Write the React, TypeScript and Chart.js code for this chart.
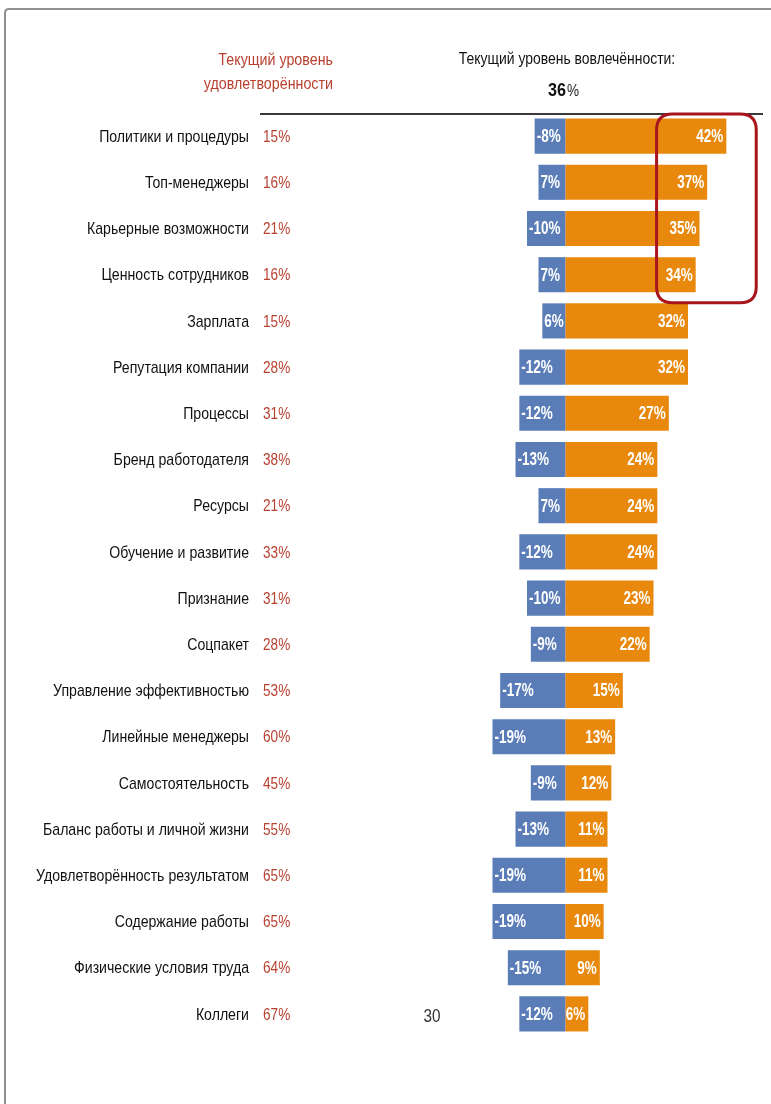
import React, { useEffect, useRef } from 'react';
import { Chart, registerables } from 'chart.js';

Chart.register(...registerables);

const categories = [
  'Политики и процедуры',
  'Топ-менеджеры',
  'Карьерные возможности',
  'Ценность сотрудников',
  'Зарплата',
  'Репутация компании',
  'Процессы',
  'Бренд работодателя',
  'Ресурсы',
  'Обучение и развитие',
  'Признание',
  'Соцпакет',
  'Управление эффективностью',
  'Линейные менеджеры',
  'Самостоятельность',
  'Баланс работы и личной жизни',
  'Удовлетворённость результатом',
  'Содержание работы',
  'Физические условия труда',
  'Коллеги',
];

const satisfaction = [15, 16, 21, 16, 15, 28, 31, 38, 21, 33, 31, 28, 53, 60, 45, 55, 65, 65, 64, 67];

const negativeValues = [-8, -7, -10, -7, -6, -12, -12, -13, -7, -12, -10, -9, -17, -19, -9, -13, -19, -19, -15, -12];
const negativeText = ['-8%', '7%', '-10%', '7%', '6%', '-12%', '-12%', '-13%', '7%', '-12%', '-10%', '-9%', '-17%', '-19%', '-9%', '-13%', '-19%', '-19%', '-15%', '-12%'];

const positiveValues = [42, 37, 35, 34, 32, 32, 27, 24, 24, 24, 23, 22, 15, 13, 12, 11, 11, 10, 9, 6];

const engagementTotal = 36;
const satisfactionTitle = ['Текущий уровень', 'удовлетворённости'];
const engagementTitle = 'Текущий уровень вовлечённости:';
const strayText = '30';

const BLUE = '#5a7db8';
const ORANGE = '#e8890e';
const RED_TEXT = '#b8402f';
const FRAME_RED = '#a8151c';

function narrowText(
  ctx: CanvasRenderingContext2D,
  text: string,
  x: number,
  y: number,
  font: string,
  color: string,
  align: CanvasTextAlign,
  sx: number
) {
  ctx.save();
  ctx.translate(x, y);
  ctx.scale(sx, 1);
  ctx.font = font;
  ctx.fillStyle = color;
  ctx.textAlign = align;
  ctx.textBaseline = 'middle';
  ctx.fillText(text, 0, 0);
  ctx.restore();
}

function roundRect(ctx: CanvasRenderingContext2D, x: number, y: number, w: number, h: number, r: number) {
  ctx.beginPath();
  ctx.moveTo(x + r, y);
  ctx.lineTo(x + w - r, y);
  ctx.quadraticCurveTo(x + w, y, x + w, y + r);
  ctx.lineTo(x + w, y + h - r);
  ctx.quadraticCurveTo(x + w, y + h, x + w - r, y + h);
  ctx.lineTo(x + r, y + h);
  ctx.quadraticCurveTo(x, y + h, x, y + h - r);
  ctx.lineTo(x, y + r);
  ctx.quadraticCurveTo(x, y, x + r, y);
  ctx.closePath();
}

const decorPlugin = {
  id: 'decor',
  beforeDraw(chart: any) {
    const ctx: CanvasRenderingContext2D = chart.ctx;
    ctx.save();
    ctx.fillStyle = '#ffffff';
    ctx.fillRect(0, 0, chart.width, chart.height);
    // frame
    ctx.strokeStyle = '#8e9094';
    ctx.lineWidth = 2;
    ctx.beginPath();
    ctx.moveTo(5, chart.height + 2);
    ctx.lineTo(5, 13);
    ctx.quadraticCurveTo(5, 9, 9, 9);
    ctx.lineTo(chart.width + 2, 9);
    ctx.stroke();
    // headers
    const sans = '"Liberation Sans", Arial, sans-serif';
    narrowText(ctx, satisfactionTitle[0], 333, 60, `17px ${sans}`, RED_TEXT, 'right', 0.84);
    narrowText(ctx, satisfactionTitle[1], 333, 84, `17px ${sans}`, RED_TEXT, 'right', 0.84);
    narrowText(ctx, engagementTitle, 567, 59, `17px ${sans}`, '#111111', 'center', 0.82);
    // 36%
    ctx.font = `bold 19px ${sans}`;
    const numTxt = String(engagementTotal);
    const wNum = ctx.measureText(numTxt).width * 0.85;
    ctx.font = `17px ${sans}`;
    const wPct = ctx.measureText('%').width * 0.8;
    const startX = 563 - (wNum + wPct) / 2;
    narrowText(ctx, numTxt, startX, 91, `bold 19px ${sans}`, '#111111', 'left', 0.85);
    narrowText(ctx, '%', startX + wNum + 1, 91, `17px ${sans}`, '#222222', 'left', 0.8);
    // header rule
    ctx.strokeStyle = '#3a3a3a';
    ctx.lineWidth = 2;
    ctx.beginPath();
    ctx.moveTo(260, 114);
    ctx.lineTo(763, 114);
    ctx.stroke();
    ctx.restore();
  },
  afterDatasetsDraw(chart: any) {
    const ctx: CanvasRenderingContext2D = chart.ctx;
    const xs = chart.scales.x;
    const ys = chart.scales.y;
    const sans = '"Liberation Sans", Arial, sans-serif';
    ctx.save();
    categories.forEach((cat, i) => {
      const y = ys.getPixelForValue(i);
      narrowText(ctx, cat, 249, y + 1, `17px ${sans}`, '#111111', 'right', 0.83);
      narrowText(ctx, `${satisfaction[i]}%`, 263, y + 1, `17px ${sans}`, RED_TEXT, 'left', 0.8);
      const xn = xs.getPixelForValue(negativeValues[i]);
      narrowText(ctx, negativeText[i], xn + 2, y + 1, `bold 18px ${sans}`, '#ffffff', 'left', 0.75);
      const xp = xs.getPixelForValue(positiveValues[i]);
      narrowText(ctx, `${positiveValues[i]}%`, xp - 3, y + 1, `bold 18px ${sans}`, '#ffffff', 'right', 0.75);
    });
    // highlight box around the top four engagement drivers
    const bx1 = xs.getPixelForValue(23.8);
    const bx2 = xs.getPixelForValue(49.8);
    const by1 = ys.getPixelForValue(0) - 22;
    const by2 = ys.getPixelForValue(3) + 28;
    ctx.strokeStyle = FRAME_RED;
    ctx.lineWidth = 3;
    roundRect(ctx, bx1, by1, bx2 - bx1, by2 - by1, 16);
    ctx.stroke();
    // stray label
    narrowText(ctx, strayText, 432, ys.getPixelForValue(categories.length - 1) + 3, `18px ${sans}`, '#333333', 'center', 0.85);
    ctx.restore();
  },
};

export default function App() {
  const ref = useRef<HTMLCanvasElement | null>(null);
  useEffect(() => {
    if (!ref.current) return;
    const chart = new Chart(ref.current, {
      type: 'bar',
      data: {
        labels: categories,
        datasets: [
          {
            label: 'neg',
            data: negativeValues,
            backgroundColor: BLUE,
            borderWidth: 0,
            barPercentage: 0.76,
            categoryPercentage: 1,
          },
          {
            label: 'pos',
            data: positiveValues,
            backgroundColor: ORANGE,
            borderWidth: 0,
            barPercentage: 0.76,
            categoryPercentage: 1,
          },
        ],
      },
      options: {
        indexAxis: 'y',
        responsive: false,
        devicePixelRatio: 1,
        animation: false,
        layout: { padding: { left: 297, right: 14, top: 113, bottom: 67 } },
        scales: {
          x: { type: 'linear', min: -70, max: 50, stacked: true, display: false },
          y: { type: 'category', stacked: true, display: false },
        },
        plugins: {
          legend: { display: false },
          tooltip: { enabled: false },
          title: { display: false },
        },
      },
      plugins: [decorPlugin],
    });
    return () => chart.destroy();
  }, []);
  return (
    <canvas
      ref={ref}
      width={771}
      height={1104}
      style={{ position: 'fixed', left: 0, top: 0, width: 771, height: 1104 }}
    />
  );
}
